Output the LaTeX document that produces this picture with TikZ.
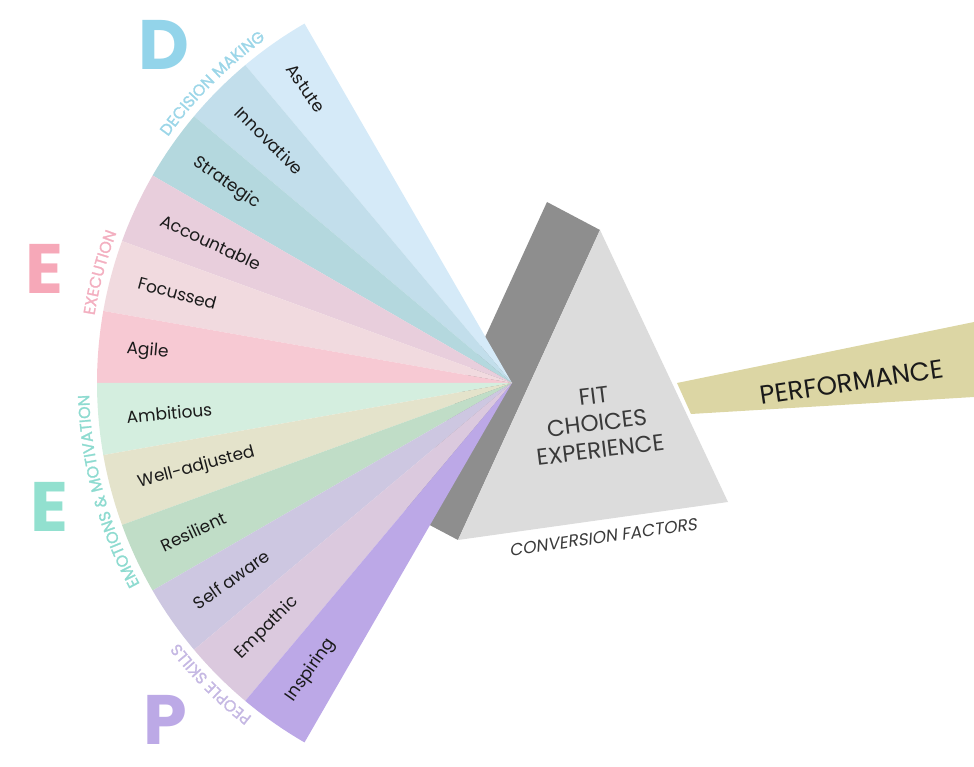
\documentclass[tikz,border=0pt]{standalone}
\usepackage{fontspec}
\setmainfont{Poppins}
\setsansfont{Poppins}
\newfontfamily\convfont[FakeSlant=0.2]{Poppins}
\newfontfamily\catfam[FakeBold=1.5]{Poppins}
\usetikzlibrary{decorations.text}
\definecolor{cAstute}{HTML}{D5EAF8}
\definecolor{cInnov}{HTML}{C2DEEB}
\definecolor{cStrat}{HTML}{B4D8DE}
\definecolor{cAcc}{HTML}{E8CEDC}
\definecolor{cFoc}{HTML}{F1DADF}
\definecolor{cAgile}{HTML}{F7C9D3}
\definecolor{cAmb}{HTML}{D4EEDF}
\definecolor{cWell}{HTML}{E4E3CB}
\definecolor{cRes}{HTML}{C0DDC7}
\definecolor{cSelf}{HTML}{CDC7E1}
\definecolor{cEmp}{HTML}{DBC9DE}
\definecolor{cInsp}{HTML}{BCA8E7}
\definecolor{bandgray}{HTML}{8E8E8E}
\definecolor{trigray}{HTML}{DCDCDC}
\definecolor{beam}{HTML}{DCD6A4}
\definecolor{colD}{HTML}{93D4EA}
\definecolor{colE}{HTML}{F6A8B8}
\definecolor{colEm}{HTML}{92E0CF}
\definecolor{colP}{HTML}{BCA9E6}
\definecolor{catD}{HTML}{9CD6E8}
\definecolor{catE}{HTML}{F3AFC0}
\definecolor{catEm}{HTML}{8EDBD0}
\definecolor{catP}{HTML}{C5B8E3}
\definecolor{inktext}{HTML}{1A1A1A}
\definecolor{tritext}{HTML}{3A3A3A}
\newcommand\catfont{\catfam\fontsize{16}{16}\selectfont}
\begin{document}
\begin{tikzpicture}[x=1pt,y=1pt,
  seglabel/.style={font=\fontsize{17}{20}\selectfont, text=inktext, anchor=west, inner sep=0pt},
  bigletter/.style={font=\fontsize{70}{70}\selectfont\bfseries, inner sep=0pt, anchor=center},
  catlabel/.style={decorate, decoration={text along path, text align=center, text={|\catfont|#1}}}
]
\useasboundingbox (0,0) rectangle (974,766);
\coordinate (C) at (512,383);
% prism back face
\fill[bandgray] (547,564) -- (600,536) -- (458,226) -- (405,254) -- cycle;
% fan
\foreach \i/\col in {0/cAstute,1/cInnov,2/cStrat,3/cAcc,4/cFoc,5/cAgile,6/cAmb,7/cWell,8/cRes,9/cSelf,10/cEmp,11/cInsp}{
  \pgfmathsetmacro\a{120+10*\i}
  \pgfmathsetmacro\b{130+10*\i}
  \fill[\col] (C) -- ++(\a:415) arc[start angle=\a, end angle=\b, radius=415] -- cycle;
}
% segment labels
\foreach \i/\txt in {0/Astute,1/Innovative,2/Strategic,3/Accountable,4/Focussed,5/Agile,6/Ambitious,7/Well-adjusted,8/Resilient,9/Self aware,10/Empathic,11/Inspiring}{
  \pgfmathsetmacro\m{125+10*\i}
  \pgfmathsetmacro\r{\m-180}
  \node[seglabel, rotate=\r] (l\i) at ([shift={(\m:387)}]C) {\txt};
}
% beam
\fill[beam] (677,383) -- (974,444) -- (974,369) -- (691,352) -- cycle;
% prism front face
\fill[trigray] (600,536) -- (458,226) -- (728,264) -- cycle;
\node[rotate=7, align=center, font=\fontsize{23}{27}\selectfont, text=tritext] (tri) at (597,343) {FIT\\CHOICES\\EXPERIENCE};
\node[rotate=8, font=\convfont\fontsize{17}{20}\selectfont, text=tritext] (conv) at (603,229) {CONVERSION FACTORS};
\node[rotate=8.5, font=\fontsize{26}{30}\selectfont, text=inktext] (perf) at (852,384) {PERFORMANCE};
% big letters
\node[bigletter, text=colD] (bD) at (164,721) {D};
\node[bigletter, text=colE] (bE) at (44,497) {E};
\node[bigletter, text=colEm] (bEm) at (49,259) {E};
\node[bigletter, text=colP] (bP) at (165,46) {P};
% category labels along arcs
\path[catlabel={DECISION MAKING}, decoration={text color=catD}] ([shift={(155:423)}]C) arc[start angle=155, end angle=115, radius=423];
\path[catlabel={EXECUTION}, decoration={text color=catE}] ([shift={(185:423)}]C) arc[start angle=185, end angle=145, radius=423];
\path[catlabel={EMOTIONS {\&} MOTIVATION}, decoration={text color=catEm}] ([shift={(225:423)}]C) arc[start angle=225, end angle=165, radius=423];
\path[catlabel={PEOPLE SKILLS}, decoration={text color=catP}] ([shift={(245:423)}]C) arc[start angle=245, end angle=205, radius=423];
\end{tikzpicture}
\end{document}
